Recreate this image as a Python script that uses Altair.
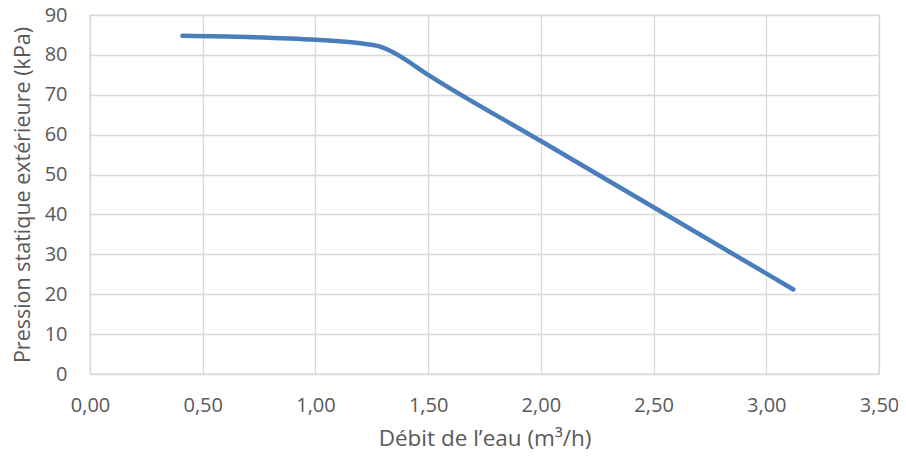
import altair as alt
import pandas as pd

debit = [0.41, 0.70, 1.00, 1.20, 1.28, 1.35, 1.50, 2.00, 2.50, 3.12]
pression = [84.8, 84.5, 83.8, 82.9, 82.2, 80.5, 75.0, 58.4, 41.8, 21.2]

df = pd.DataFrame({"x": debit, "y": pression})

FONT = "Open Sans"
GREY = "#595959"

chart = alt.Chart(df).mark_line(
    color="#4a7ebb", strokeWidth=4.5, interpolate="monotone", strokeCap="round"
).encode(
    x=alt.X("x:Q", scale=alt.Scale(domain=[0, 3.5], nice=False),
            axis=alt.Axis(values=[0, 0.5, 1, 1.5, 2, 2.5, 3, 3.5],
                          labelExpr="replace(format(datum.value, '.2f'), '.', ',')",
                          title="Débit de l’eau (m³/h)", titlePadding=12,
                          labelPadding=21, titleFontSize=22.5)),
    y=alt.Y("y:Q", scale=alt.Scale(domain=[0, 90], nice=False),
            axis=alt.Axis(values=list(range(0, 100, 10)),
                          title="Pression statique extérieure (kPa)",
                          titlePadding=10, labelPadding=23, titleFontSize=21.5)),
).properties(
    width=789, height=359,
    autosize=alt.AutoSizeParams(type="none"),
    padding={"left": 82, "top": 7, "right": 19, "bottom": 80},
).configure_axis(
    labelFont=FONT, titleFont=FONT, labelFontSize=20,
    labelColor=GREY, titleColor=GREY, titleFontWeight="normal",
    gridColor="#d9d9d9", gridWidth=1.3, domain=False, ticks=False,
    labelFlush=False, labelOverlap=False,
).configure_view(stroke="#d9d9d9", strokeWidth=1.3)

chart.save("out.html", embed_options={"renderer": "svg", "actions": False})
